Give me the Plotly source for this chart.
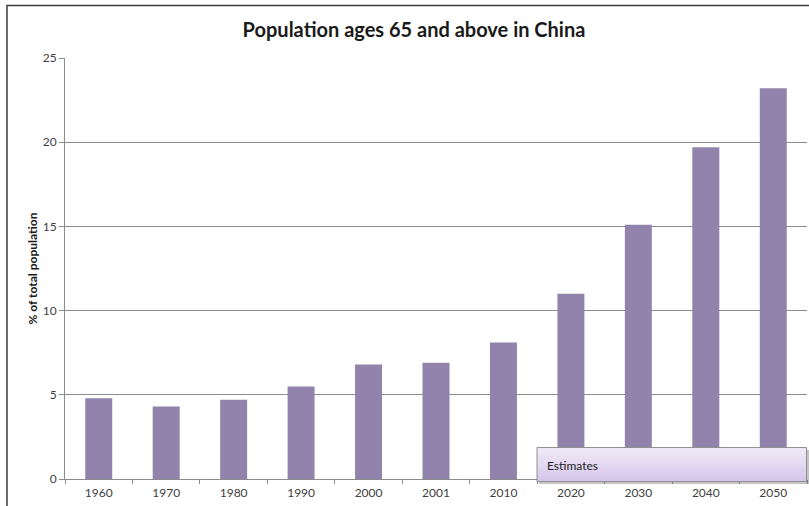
import plotly.graph_objects as go

years = ["1960", "1970", "1980", "1990", "2000", "2001", "2010", "2020", "2030", "2040", "2050"]
pct_65_plus = [4.8, 4.3, 4.7, 5.5, 6.8, 6.9, 8.1, 11.0, 15.1, 19.7, 23.2]
y_ticks = [0, 5, 10, 15, 20, 25]

W, H = 809, 506
ml, mr, mt, mb = 65, 2, 57.5, 27
pw, ph = W - ml - mr, H - mt - mb

def px_x(p):
    return (p - ml) / pw

def px_y(p):
    return (H - mb - p) / ph

fig = go.Figure()
fig.add_trace(go.Bar(
    x=years, y=pct_65_plus,
    marker=dict(color="#9183ab", line=dict(width=0)),
    hoverinfo="x+y",
))

shapes = [
    # outer chart frame
    dict(type="rect", xref="paper", yref="paper",
         x0=px_x(7), x1=1.2, y0=-0.3, y1=px_y(5),
         line=dict(color="#3a3a3a", width=1.5), fillcolor="rgba(0,0,0,0)", layer="below"),
    # shadow of estimates box
    dict(type="rect", xref="paper", yref="paper",
         x0=px_x(539), x1=px_x(809), y0=px_y(484), y1=px_y(450),
         line=dict(width=0), fillcolor="rgba(90,90,90,0.35)", layer="above"),
]

# estimates box: vertical light gradient built from overlapping bands
top_c = (240, 234, 248)
bot_c = (214, 199, 235)
n_bands = 12
y_top, y_bot = 447.5, 481.5
for i in range(n_bands):
    t = i / (n_bands - 1)
    c = tuple(round(a + (b - a) * t) for a, b in zip(top_c, bot_c))
    yy0 = y_top + (y_bot - y_top) * i / n_bands
    shapes.append(dict(type="rect", xref="paper", yref="paper",
                       x0=px_x(537), x1=px_x(806.5), y0=px_y(y_bot), y1=px_y(yy0),
                       line=dict(width=0), fillcolor="rgb(%d,%d,%d)" % c, layer="above"))
shapes.append(dict(type="rect", xref="paper", yref="paper",
                   x0=px_x(537), x1=px_x(806.5), y0=px_y(y_bot), y1=px_y(y_top),
                   line=dict(color="#8f8f8f", width=1), fillcolor="rgba(0,0,0,0)", layer="above"))

fig.update_layout(
    width=W, height=H,
    margin=dict(l=ml, r=mr, t=mt, b=mb, autoexpand=False),
    paper_bgcolor="white", plot_bgcolor="white",
    showlegend=False,
    bargap=0.6,
    title=dict(text="<b>Population ages 65 and above in China</b>",
               x=414 / W, xanchor="center", y=1 - 30 / H, yanchor="middle",
               font=dict(family="Lato", size=20, color="#1a1a1a")),
    font=dict(family="Lato", size=12, color="#404040"),
    xaxis=dict(type="category", showgrid=False, showline=True, linecolor="#8c8c8c", linewidth=1,
               ticks="outside", tickson="boundaries", ticklen=4, tickcolor="#8c8c8c",
               ticklabelstandoff=3,
               tickfont=dict(size=12, color="#404040"), range=[-0.5, 10.5]),
    yaxis=dict(range=[0, 25], tickvals=y_ticks, showgrid=True, gridcolor="#8c8c8c", gridwidth=1,
               showline=True, linecolor="#8c8c8c", linewidth=1, zeroline=False,
               ticks="outside", ticklen=5, tickcolor="#8c8c8c",
               tickfont=dict(size=12, color="#404040"),
               title=dict(text="<b>% of total population</b>", font=dict(size=12, color="#1a1a1a"),
                          standoff=2)),
    shapes=shapes,
    annotations=[
        dict(text="Estimates", xref="paper", yref="paper",
             x=px_x(545), y=px_y(465), xanchor="left", yanchor="middle",
             showarrow=False, font=dict(family="Lato", size=12, color="#222222")),
    ],
)

fig.write_html("out.html", config={"displayModeBar": False},
               post_script="document.body.style.margin='0';document.body.style.overflow='hidden';")
